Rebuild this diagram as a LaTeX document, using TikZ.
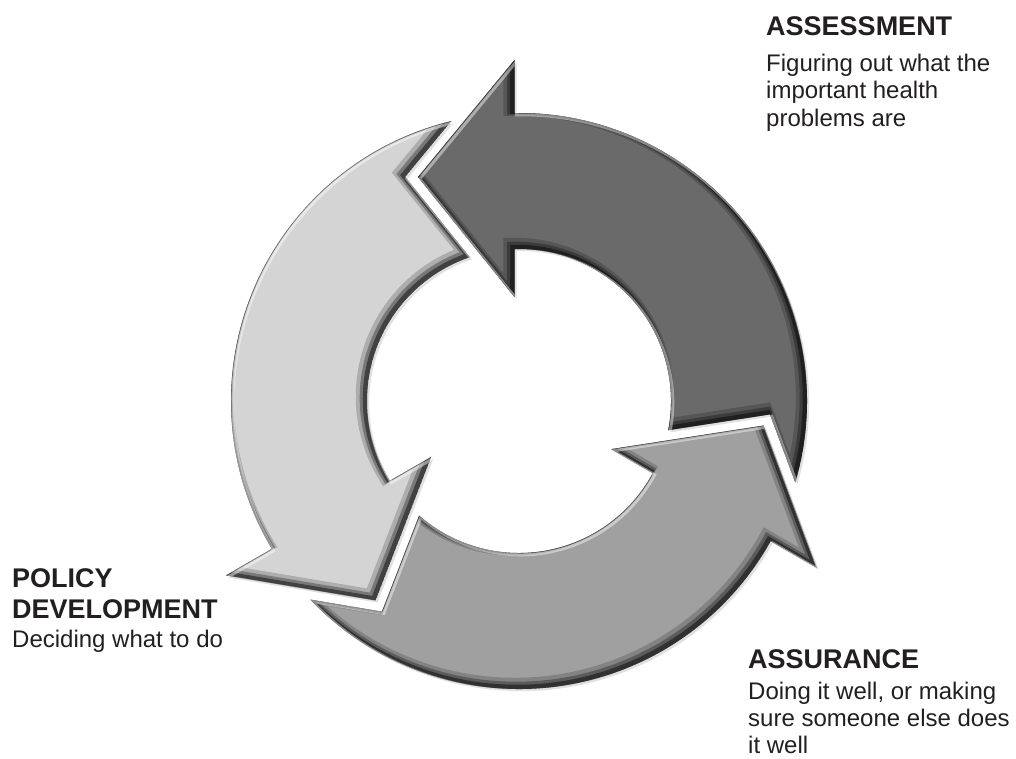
\documentclass[tikz,border=0pt]{standalone}
\usepackage{fontspec}
\setmainfont{Liberation Sans}
\definecolor{darkarrow}{RGB}{106,106,106}
\definecolor{midarrow}{RGB}{160,160,160}
\definecolor{lightarrow}{RGB}{212,212,212}
\definecolor{labeltext}{RGB}{35,31,32}
% one ring arrow, head near 90 degrees, tail notched for the previous head
\newcommand\ringarrow{(149.2,-29.2) arc[start angle=-11.07, end angle=91.70, radius=152pt]
  -- (-4.5,104) -- (-101,224) -- (-4.5,341) -- (-4.5,287.96)
  arc[start angle=90.90, end angle=-16.40, radius=288pt] -- (251,-13.4) -- cycle}
\newcommand\ringshadow[1]{%
  \begin{scope}[shift={(519,-401)}, rotate=#1]
    \fill[black, opacity=0.12, shift={(-45-#1:3)}] \ringarrow;
  \end{scope}}
\newcommand\ringpiece[2]{%
  \begin{scope}[shift={(519,-401)}, rotate=#1]
    \fill[#2] \ringarrow;
    \begin{scope}
      \clip \ringarrow;
      \draw[black, opacity=0.18, line width=14pt, shift={(135-#1:6)}] \ringarrow;
      \draw[black, opacity=0.30, line width=9pt, shift={(135-#1:4)}] \ringarrow;
      \draw[black, opacity=0.45, line width=5pt, shift={(135-#1:2.5)}] \ringarrow;
      \draw[white, opacity=0.45, line width=3pt, shift={(-45-#1:2.5)}] \ringarrow;
    \end{scope}
  \end{scope}}
\begin{document}
\begin{tikzpicture}[x=1pt, y=1pt,
  title/.style={anchor=base west, inner sep=0pt, text=labeltext,
    font=\fontsize{27}{31}\selectfont\bfseries},
  body/.style={anchor=base west, inner sep=0pt, text=labeltext,
    font=\fontsize{24}{28}\selectfont}]
\useasboundingbox[fill=white] (0,0) rectangle (1016,-758);
% shadows first, then the three arrows
\ringshadow{0}\ringshadow{120}\ringshadow{240}
\ringpiece{0}{darkarrow}
\ringpiece{120}{lightarrow}
\ringpiece{240}{midarrow}
% labels
\node[title] (asT) at (766,-35) {ASSESSMENT};
\node[body] (as1) at (766,-71) {Figuring out what the};
\node[body] (as2) at (766,-98) {important health};
\node[body] (as3) at (766,-126) {problems are};
\node[title] (poT1) at (12,-587) {POLICY};
\node[title] (poT2) at (12,-618) {DEVELOPMENT};
\node[body] (po1) at (12,-647) {Deciding what to do};
\node[title] (auT) at (748,-668) {ASSURANCE};
\node[body] (au1) at (748,-699) {Doing it well, or making};
\node[body] (au2) at (748,-726) {sure someone else does};
\node[body] (au3) at (748,-753) {it well};
\end{tikzpicture}
\end{document}
